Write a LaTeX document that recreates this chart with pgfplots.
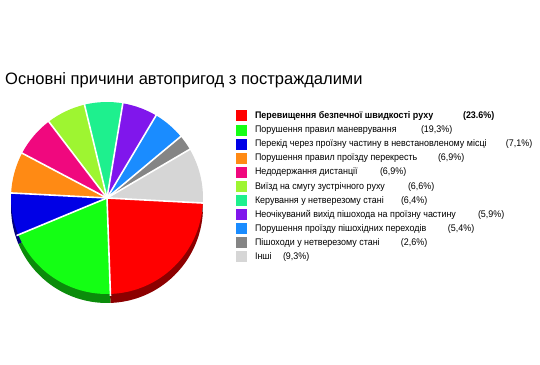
\documentclass[border=0pt]{standalone}
\usepackage{pgfplots}
\pgfplotsset{compat=1.18}
\usepackage{pgfplotstable}
\usepackage{fontspec}
\setmainfont{Liberation Sans}
\newfontfamily\legfont[FakeStretch=0.93]{Liberation Sans}

\definecolor{col0}{HTML}{FF0000}
\definecolor{col1}{HTML}{14FF14}
\definecolor{col2}{HTML}{0000E6}
\definecolor{col3}{HTML}{FF8A14}
\definecolor{col4}{HTML}{F0087E}
\definecolor{col5}{HTML}{9EF531}
\definecolor{col6}{HTML}{1EF08E}
\definecolor{col7}{HTML}{8016EC}
\definecolor{col8}{HTML}{1A8CFF}
\definecolor{col9}{HTML}{858585}
\definecolor{col10}{HTML}{D6D6D6}

\pgfplotstableread{
pct
23.6
19.3
7.1
6.9
6.9
6.6
6.4
5.9
5.4
2.6
9.3
}\piedata

\begin{document}
\begin{tikzpicture}
\path[use as bounding box] (0,0) rectangle (540pt,364pt);
\xdef\cur{-3}%
\foreach \i in {0,...,10}{%
  \pgfplotstablegetelem{\i}{pct}\of\piedata
  \pgfmathsetmacro\nxt{\cur-3.6*\pgfplotsretval}%
  \expandafter\xdef\csname s\i\endcsname{\cur}%
  \expandafter\xdef\csname e\i\endcsname{\nxt}%
  \xdef\cur{\nxt}%
}%
\node[anchor=base west, font=\fontsize{16.5}{18}\selectfont, inner sep=0pt] at (5pt,279pt) {Основні причини автопригод з постраждалими};
\begin{axis}[
  at={(107pt,166pt)}, anchor=center,
  scale only axis, width=192pt, height=192pt,
  xmin=-1, xmax=1, ymin=-1, ymax=1,
  hide axis, clip=false,
  legend image code/.code={\path[draw=none, fill=none] (0pt,0pt) -- (17pt,0pt); \fill[#1, draw=none] (0pt,-5.5pt) rectangle (11pt,5.5pt);},
  legend cell align=left,
  legend style={at={(axis cs:1.344,0.92)}, anchor=north west, draw=none, fill=none,
    inner sep=0pt, outer sep=0pt, row sep=1.6pt,
    font=\legfont\fontsize{9.6}{11}\selectfont},
]
% side (thickness) of the pie
\pgfplotsinvokeforeach{0,...,10}{%
  \fill[col#1!55!black] ([yshift=-9pt]axis cs:0,0) -- ([yshift=-9pt]axis cs:{cos(\csname s#1\endcsname)},{sin(\csname s#1\endcsname)}) arc[start angle=\csname s#1\endcsname, end angle=\csname e#1\endcsname, radius=96pt] -- cycle;
}
% top faces
\pgfplotsinvokeforeach{0,...,10}{%
  \fill[col#1] (axis cs:0,0) -- (axis cs:{cos(\csname s#1\endcsname)},{sin(\csname s#1\endcsname)}) arc[start angle=\csname s#1\endcsname, end angle=\csname e#1\endcsname, radius=96pt] -- cycle;
}
% gaps between slices
\pgfplotsinvokeforeach{0,...,10}{%
  \draw[white, line width=1.6pt] (axis cs:0,0) -- (axis cs:{1.02*cos(\csname s#1\endcsname)},{1.02*sin(\csname s#1\endcsname)});
}
\addlegendimage{fill=col0}
\addlegendentry{\makebox[208pt][l]{\textbf{Перевищення безпечної швидкості руху}}\textbf{(23.6\%)}}
\addlegendimage{fill=col1}
\addlegendentry{\makebox[166pt][l]{Порушення правил маневрування}(19,3\%)}
\addlegendimage{fill=col2}
\addlegendentry{\makebox[251pt][l]{Перекід через проїзну частину в невстановленому місці}(7,1\%)}
\addlegendimage{fill=col3}
\addlegendentry{\makebox[183pt][l]{Порушення правил проїзду перекресть}(6,9\%)}
\addlegendimage{fill=col4}
\addlegendentry{\makebox[125pt][l]{Недодержання дистанції}(6,9\%)}
\addlegendimage{fill=col5}
\addlegendentry{\makebox[153pt][l]{Виїзд на смугу зустрічного руху}(6,6\%)}
\addlegendimage{fill=col6}
\addlegendentry{\makebox[146pt][l]{Керування у нетверезому стані}(6,4\%)}
\addlegendimage{fill=col7}
\addlegendentry{\makebox[223pt][l]{Неочікуваний вихід пішохода на проїзну частину}(5,9\%)}
\addlegendimage{fill=col8}
\addlegendentry{\makebox[193pt][l]{Порушення проїзду пішохідних переходів}(5,4\%)}
\addlegendimage{fill=col9}
\addlegendentry{\makebox[146pt][l]{Пішоходи у нетверезому стані}(2,6\%)}
\addlegendimage{fill=col10}
\addlegendentry{\makebox[28pt][l]{Інші}(9,3\%)}
\end{axis}
\end{tikzpicture}
\end{document}
